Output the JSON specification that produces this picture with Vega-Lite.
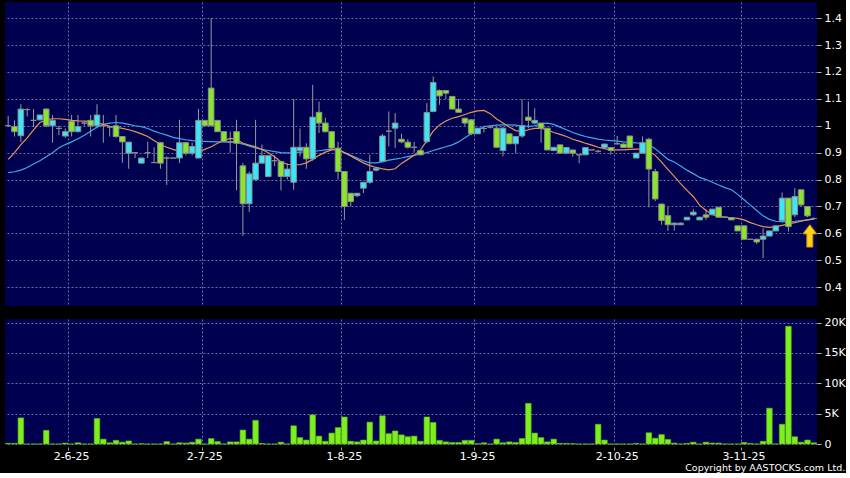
{
"$schema": "https://vega.github.io/schema/vega-lite/v6.json",
"background": "#000000",
"padding": {"left": 4, "top": 2, "right": 0, "bottom": 0},
"config": {
  "view": {"fill": "#000050", "stroke": null},
  "font": "DejaVu Sans",
  "axis": {"gridColor": "#6E6EA0", "gridDash": [2, 2], "gridWidth": 1, "gridOpacity": 1, "labelColor": "#FFFFFF", "labelFont": "DejaVu Sans", "domain": false, "tickColor": "#BBBBBB", "title": null, "labelOverlap": false},
  "concat": {"spacing": 10}
},
"title": {"text": "Copyright by AASTOCKS.com Ltd.", "orient": "bottom", "anchor": "end", "color": "#FFFFFF", "fontSize": 9.5, "fontWeight": "normal", "font": "DejaVu Sans", "offset": 2},
"datasets": {"k": [
{"d":"2025-05-19","o":1.0,"h":1.037,"l":0.996,"c":1.0,"v":0.1,"m1":0.875,"m2":0.826},
{"d":"2025-05-20","o":0.997,"h":1.02,"l":0.96,"c":0.978,"v":0.1,"m1":0.9,"m2":0.829},
{"d":"2025-05-21","o":0.963,"h":1.08,"l":0.94,"c":1.062,"v":4.3,"m1":0.93,"m2":0.835},
{"d":"2025-05-22","o":1.06,"h":1.065,"l":1.035,"c":1.06,"v":0,"m1":0.955,"m2":0.845},
{"d":"2025-05-23","o":1.02,"h":1.062,"l":0.996,"c":1.02,"v":0,"m1":0.985,"m2":0.858},
{"d":"2025-05-26","o":1.022,"h":1.04,"l":1.02,"c":1.04,"v":0,"m1":1.012,"m2":0.87},
{"d":"2025-05-27","o":1.062,"h":1.065,"l":0.995,"c":1.0,"v":2.25,"m1":1.022,"m2":0.885},
{"d":"2025-05-28","o":1.0,"h":1.04,"l":0.937,"c":1.02,"v":0,"m1":1.026,"m2":0.9},
{"d":"2025-05-29","o":0.99,"h":1.0,"l":0.965,"c":0.99,"v":0,"m1":1.026,"m2":0.918},
{"d":"2025-05-30","o":0.962,"h":0.99,"l":0.955,"c":0.978,"v":0.15,"m1":1.024,"m2":0.93},
{"d":"2025-06-02","o":1.016,"h":1.04,"l":0.96,"c":0.978,"v":0,"m1":1.02,"m2":0.94},
{"d":"2025-06-03","o":0.978,"h":1.04,"l":0.975,"c":0.997,"v":0.2,"m1":1.018,"m2":0.952},
{"d":"2025-06-04","o":1.01,"h":1.015,"l":1.0,"c":1.01,"v":0,"m1":1.017,"m2":0.965},
{"d":"2025-06-05","o":1.02,"h":1.04,"l":0.96,"c":1.0,"v":0,"m1":1.016,"m2":0.98},
{"d":"2025-06-06","o":1.0,"h":1.08,"l":0.99,"c":1.04,"v":4.2,"m1":1.012,"m2":0.995},
{"d":"2025-06-09","o":1.0,"h":1.04,"l":0.937,"c":1.0,"v":0.8,"m1":1.005,"m2":1.005},
{"d":"2025-06-10","o":0.995,"h":1.0,"l":0.96,"c":0.995,"v":0.2,"m1":0.998,"m2":1.01},
{"d":"2025-06-11","o":1.0,"h":1.04,"l":0.955,"c":0.96,"v":0.6,"m1":0.995,"m2":1.012},
{"d":"2025-06-12","o":0.96,"h":0.96,"l":0.862,"c":0.94,"v":0.3,"m1":0.99,"m2":1.01},
{"d":"2025-06-13","o":0.898,"h":0.94,"l":0.84,"c":0.939,"v":0.5,"m1":0.985,"m2":1.005},
{"d":"2025-06-16","o":0.9,"h":0.9,"l":0.88,"c":0.9,"v":0,"m1":0.978,"m2":1.0},
{"d":"2025-06-17","o":0.861,"h":0.88,"l":0.86,"c":0.88,"v":0.05,"m1":0.97,"m2":0.997},
{"d":"2025-06-18","o":0.9,"h":0.941,"l":0.88,"c":0.9,"v":0,"m1":0.96,"m2":0.99},
{"d":"2025-06-19","o":0.863,"h":0.92,"l":0.862,"c":0.863,"v":0,"m1":0.945,"m2":0.98},
{"d":"2025-06-20","o":0.937,"h":0.94,"l":0.84,"c":0.861,"v":0,"m1":0.93,"m2":0.972},
{"d":"2025-06-23","o":0.88,"h":0.886,"l":0.78,"c":0.88,"v":0.4,"m1":0.92,"m2":0.965},
{"d":"2025-06-24","o":0.88,"h":0.88,"l":0.88,"c":0.88,"v":0,"m1":0.912,"m2":0.957},
{"d":"2025-06-25","o":0.88,"h":1.022,"l":0.861,"c":0.937,"v":0.2,"m1":0.905,"m2":0.952},
{"d":"2025-06-26","o":0.937,"h":0.94,"l":0.89,"c":0.898,"v":0.15,"m1":0.902,"m2":0.948},
{"d":"2025-06-27","o":0.898,"h":0.937,"l":0.89,"c":0.923,"v":0.3,"m1":0.9,"m2":0.945},
{"d":"2025-06-30","o":0.88,"h":1.063,"l":0.88,"c":1.02,"v":0.8,"m1":0.905,"m2":0.943},
{"d":"2025-07-02","o":1.02,"h":1.02,"l":1.0,"c":1.0,"v":0,"m1":0.912,"m2":0.942},
{"d":"2025-07-03","o":1.14,"h":1.4,"l":1.0,"c":1.0,"v":0.9,"m1":0.922,"m2":0.941},
{"d":"2025-07-04","o":1.02,"h":1.02,"l":0.978,"c":0.978,"v":0.4,"m1":0.935,"m2":0.94},
{"d":"2025-07-07","o":0.978,"h":0.978,"l":0.941,"c":0.941,"v":0,"m1":0.945,"m2":0.94},
{"d":"2025-07-08","o":0.94,"h":0.978,"l":0.9,"c":0.94,"v":0.35,"m1":0.953,"m2":0.939},
{"d":"2025-07-09","o":0.978,"h":1.022,"l":0.76,"c":0.935,"v":0.35,"m1":0.95,"m2":0.938},
{"d":"2025-07-10","o":0.851,"h":0.862,"l":0.59,"c":0.71,"v":2.3,"m1":0.935,"m2":0.932},
{"d":"2025-07-11","o":0.71,"h":0.83,"l":0.68,"c":0.821,"v":0.8,"m1":0.928,"m2":0.924},
{"d":"2025-07-14","o":0.8,"h":1.022,"l":0.795,"c":0.861,"v":3.9,"m1":0.922,"m2":0.918},
{"d":"2025-07-15","o":0.861,"h":0.93,"l":0.86,"c":0.889,"v":0.1,"m1":0.912,"m2":0.912},
{"d":"2025-07-16","o":0.811,"h":0.889,"l":0.81,"c":0.889,"v":0,"m1":0.9,"m2":0.908},
{"d":"2025-07-17","o":0.87,"h":0.89,"l":0.85,"c":0.87,"v":0,"m1":0.885,"m2":0.904},
{"d":"2025-07-18","o":0.867,"h":0.87,"l":0.76,"c":0.811,"v":0.3,"m1":0.865,"m2":0.9},
{"d":"2025-07-21","o":0.811,"h":0.86,"l":0.8,"c":0.839,"v":0,"m1":0.857,"m2":0.899},
{"d":"2025-07-22","o":0.79,"h":1.1,"l":0.762,"c":0.92,"v":3.0,"m1":0.855,"m2":0.9},
{"d":"2025-07-23","o":0.908,"h":0.99,"l":0.886,"c":0.92,"v":1.05,"m1":0.855,"m2":0.902},
{"d":"2025-07-24","o":0.92,"h":0.935,"l":0.84,"c":0.877,"v":0.65,"m1":0.862,"m2":0.903},
{"d":"2025-07-25","o":0.877,"h":1.152,"l":0.87,"c":1.032,"v":4.8,"m1":0.875,"m2":0.904},
{"d":"2025-07-28","o":1.05,"h":1.09,"l":0.973,"c":1.01,"v":1.3,"m1":0.89,"m2":0.907},
{"d":"2025-07-29","o":1.01,"h":1.03,"l":0.975,"c":0.978,"v":0.45,"m1":0.902,"m2":0.91},
{"d":"2025-07-30","o":0.978,"h":0.98,"l":0.91,"c":0.917,"v":1.8,"m1":0.91,"m2":0.913},
{"d":"2025-07-31","o":0.917,"h":0.94,"l":0.8,"c":0.83,"v":2.7,"m1":0.912,"m2":0.91},
{"d":"2025-08-01","o":0.83,"h":0.83,"l":0.65,"c":0.7,"v":4.45,"m1":0.9,"m2":0.9},
{"d":"2025-08-04","o":0.749,"h":0.75,"l":0.7,"c":0.718,"v":0.45,"m1":0.888,"m2":0.89},
{"d":"2025-08-05","o":0.74,"h":0.75,"l":0.735,"c":0.749,"v":0.35,"m1":0.875,"m2":0.88},
{"d":"2025-08-06","o":0.768,"h":0.79,"l":0.75,"c":0.79,"v":0.65,"m1":0.862,"m2":0.87},
{"d":"2025-08-07","o":0.79,"h":0.892,"l":0.785,"c":0.83,"v":3.6,"m1":0.852,"m2":0.862},
{"d":"2025-08-08","o":0.835,"h":0.845,"l":0.83,"c":0.842,"v":0.5,"m1":0.845,"m2":0.862},
{"d":"2025-08-11","o":0.867,"h":0.97,"l":0.865,"c":0.962,"v":4.65,"m1":0.84,"m2":0.866},
{"d":"2025-08-12","o":0.98,"h":1.053,"l":0.923,"c":0.98,"v":1.7,"m1":0.836,"m2":0.872},
{"d":"2025-08-13","o":0.991,"h":1.047,"l":0.917,"c":1.01,"v":2.15,"m1":0.84,"m2":0.876},
{"d":"2025-08-14","o":0.95,"h":0.97,"l":0.935,"c":0.94,"v":1.5,"m1":0.86,"m2":0.88},
{"d":"2025-08-15","o":0.939,"h":0.95,"l":0.915,"c":0.92,"v":1.2,"m1":0.875,"m2":0.885},
{"d":"2025-08-18","o":0.92,"h":0.94,"l":0.9,"c":0.92,"v":1.3,"m1":0.89,"m2":0.89},
{"d":"2025-08-19","o":0.908,"h":0.91,"l":0.89,"c":0.892,"v":0.45,"m1":0.91,"m2":0.895},
{"d":"2025-08-20","o":0.941,"h":1.084,"l":0.935,"c":1.049,"v":4.45,"m1":0.945,"m2":0.9},
{"d":"2025-08-21","o":1.053,"h":1.183,"l":1.05,"c":1.161,"v":3.55,"m1":0.98,"m2":0.908},
{"d":"2025-08-22","o":1.131,"h":1.135,"l":1.078,"c":1.111,"v":0.6,"m1":1.003,"m2":0.915},
{"d":"2025-08-25","o":1.131,"h":1.131,"l":1.099,"c":1.121,"v":0.35,"m1":1.018,"m2":0.922},
{"d":"2025-08-26","o":1.109,"h":1.11,"l":1.062,"c":1.062,"v":0.25,"m1":1.028,"m2":0.929},
{"d":"2025-08-27","o":1.062,"h":1.1,"l":1.05,"c":1.05,"v":0.25,"m1":1.034,"m2":0.94},
{"d":"2025-08-28","o":1.028,"h":1.03,"l":1.0,"c":1.01,"v":0.6,"m1":1.042,"m2":0.955},
{"d":"2025-08-29","o":1.022,"h":1.025,"l":0.965,"c":0.97,"v":0.6,"m1":1.05,"m2":0.97},
{"d":"2025-09-01","o":0.97,"h":0.991,"l":0.97,"c":0.991,"v":0.05,"m1":1.055,"m2":0.985},
{"d":"2025-09-02","o":0.99,"h":1.0,"l":0.975,"c":0.99,"v":0.2,"m1":1.057,"m2":0.997},
{"d":"2025-09-03","o":0.995,"h":1.0,"l":0.99,"c":0.995,"v":0,"m1":1.045,"m2":1.0},
{"d":"2025-09-04","o":0.991,"h":0.995,"l":0.918,"c":0.92,"v":0.8,"m1":1.025,"m2":1.002},
{"d":"2025-09-05","o":0.908,"h":0.995,"l":0.886,"c":0.991,"v":0.2,"m1":1.01,"m2":1.003},
{"d":"2025-09-08","o":0.97,"h":0.97,"l":0.933,"c":0.933,"v":0.35,"m1":0.995,"m2":1.003},
{"d":"2025-09-09","o":0.933,"h":0.96,"l":0.898,"c":0.96,"v":0.25,"m1":0.982,"m2":1.002},
{"d":"2025-09-10","o":0.962,"h":1.099,"l":0.955,"c":1.0,"v":0.9,"m1":0.978,"m2":1.0},
{"d":"2025-09-11","o":1.032,"h":1.09,"l":0.99,"c":1.02,"v":6.7,"m1":0.985,"m2":0.998},
{"d":"2025-09-12","o":1.01,"h":1.065,"l":1.005,"c":1.02,"v":1.8,"m1":0.99,"m2":1.0},
{"d":"2025-09-15","o":1.01,"h":1.01,"l":0.937,"c":0.991,"v":1.05,"m1":0.99,"m2":1.008},
{"d":"2025-09-16","o":0.991,"h":0.991,"l":0.91,"c":0.91,"v":0.35,"m1":0.985,"m2":1.01},
{"d":"2025-09-17","o":0.908,"h":0.92,"l":0.905,"c":0.92,"v":0.8,"m1":0.975,"m2":1.005},
{"d":"2025-09-18","o":0.929,"h":0.93,"l":0.898,"c":0.898,"v":0.1,"m1":0.968,"m2":0.995},
{"d":"2025-09-19","o":0.898,"h":0.919,"l":0.898,"c":0.919,"v":0.1,"m1":0.96,"m2":0.985},
{"d":"2025-09-22","o":0.91,"h":0.91,"l":0.885,"c":0.898,"v":0.05,"m1":0.95,"m2":0.975},
{"d":"2025-09-23","o":0.892,"h":0.892,"l":0.861,"c":0.892,"v":0,"m1":0.943,"m2":0.967},
{"d":"2025-09-24","o":0.892,"h":0.919,"l":0.892,"c":0.919,"v":0,"m1":0.935,"m2":0.96},
{"d":"2025-09-25","o":0.91,"h":0.91,"l":0.91,"c":0.91,"v":0,"m1":0.928,"m2":0.955},
{"d":"2025-09-26","o":0.905,"h":0.91,"l":0.9,"c":0.905,"v":3.25,"m1":0.92,"m2":0.95},
{"d":"2025-09-29","o":0.919,"h":0.932,"l":0.919,"c":0.932,"v":0.65,"m1":0.915,"m2":0.947},
{"d":"2025-09-30","o":0.919,"h":0.92,"l":0.892,"c":0.908,"v":0,"m1":0.91,"m2":0.945},
{"d":"2025-10-02","o":0.933,"h":0.962,"l":0.93,"c":0.933,"v":0,"m1":0.91,"m2":0.943},
{"d":"2025-10-03","o":0.932,"h":0.935,"l":0.919,"c":0.919,"v":0,"m1":0.91,"m2":0.94},
{"d":"2025-10-06","o":0.962,"h":0.962,"l":0.919,"c":0.919,"v":0,"m1":0.912,"m2":0.938},
{"d":"2025-10-08","o":0.88,"h":0.898,"l":0.88,"c":0.898,"v":0.1,"m1":0.913,"m2":0.936},
{"d":"2025-10-09","o":0.898,"h":0.96,"l":0.898,"c":0.937,"v":0,"m1":0.913,"m2":0.935},
{"d":"2025-10-10","o":0.95,"h":0.955,"l":0.697,"c":0.839,"v":1.85,"m1":0.905,"m2":0.93},
{"d":"2025-10-13","o":0.83,"h":0.84,"l":0.72,"c":0.728,"v":0.95,"m1":0.89,"m2":0.915},
{"d":"2025-10-14","o":0.709,"h":0.71,"l":0.632,"c":0.648,"v":1.55,"m1":0.865,"m2":0.895},
{"d":"2025-10-15","o":0.666,"h":0.698,"l":0.609,"c":0.632,"v":0.75,"m1":0.838,"m2":0.875},
{"d":"2025-10-16","o":0.632,"h":0.64,"l":0.61,"c":0.638,"v":0.15,"m1":0.812,"m2":0.865},
{"d":"2025-10-17","o":0.632,"h":0.64,"l":0.632,"c":0.638,"v":0,"m1":0.785,"m2":0.85},
{"d":"2025-10-20","o":0.65,"h":0.66,"l":0.65,"c":0.66,"v":0.1,"m1":0.76,"m2":0.835},
{"d":"2025-10-21","o":0.669,"h":0.69,"l":0.665,"c":0.679,"v":0.3,"m1":0.737,"m2":0.822},
{"d":"2025-10-22","o":0.65,"h":0.662,"l":0.65,"c":0.66,"v":0,"m1":0.705,"m2":0.808},
{"d":"2025-10-23","o":0.669,"h":0.69,"l":0.65,"c":0.66,"v":0.3,"m1":0.685,"m2":0.8},
{"d":"2025-10-24","o":0.669,"h":0.69,"l":0.669,"c":0.69,"v":0.15,"m1":0.67,"m2":0.79},
{"d":"2025-10-27","o":0.697,"h":0.697,"l":0.66,"c":0.66,"v":0.15,"m1":0.662,"m2":0.78},
{"d":"2025-10-28","o":0.66,"h":0.66,"l":0.66,"c":0.66,"v":0,"m1":0.66,"m2":0.77},
{"d":"2025-10-30","o":0.659,"h":0.659,"l":0.65,"c":0.65,"v":0,"m1":0.658,"m2":0.762},
{"d":"2025-10-31","o":0.628,"h":0.628,"l":0.609,"c":0.609,"v":0,"m1":0.656,"m2":0.745},
{"d":"2025-11-03","o":0.628,"h":0.628,"l":0.578,"c":0.578,"v":0.25,"m1":0.65,"m2":0.725},
{"d":"2025-11-04","o":0.578,"h":0.578,"l":0.578,"c":0.578,"v":0.1,"m1":0.64,"m2":0.705},
{"d":"2025-11-05","o":0.578,"h":0.58,"l":0.56,"c":0.568,"v":0,"m1":0.632,"m2":0.685},
{"d":"2025-11-06","o":0.578,"h":0.619,"l":0.508,"c":0.59,"v":0.45,"m1":0.625,"m2":0.665},
{"d":"2025-11-07","o":0.59,"h":0.609,"l":0.59,"c":0.609,"v":5.9,"m1":0.622,"m2":0.652},
{"d":"2025-11-10","o":0.609,"h":0.628,"l":0.609,"c":0.628,"v":0,"m1":0.625,"m2":0.645},
{"d":"2025-11-11","o":0.648,"h":0.752,"l":0.64,"c":0.731,"v":3.25,"m1":0.63,"m2":0.644},
{"d":"2025-11-12","o":0.731,"h":0.731,"l":0.607,"c":0.625,"v":19.4,"m1":0.635,"m2":0.644},
{"d":"2025-11-13","o":0.669,"h":0.768,"l":0.66,"c":0.737,"v":1.2,"m1":0.64,"m2":0.645},
{"d":"2025-11-14","o":0.762,"h":0.762,"l":0.7,"c":0.706,"v":0.3,"m1":0.645,"m2":0.647},
{"d":"2025-11-17","o":0.7,"h":0.7,"l":0.66,"c":0.665,"v":0.65,"m1":0.65,"m2":0.65},
{"d":"2025-11-18","o":0.655,"h":0.66,"l":0.65,"c":0.655,"v":0.2,"m1":0.655,"m2":0.653}
]},
"vconcat": [
  {
    "width": 812, "height": 304,
    "data": {"name": "k"},
    "encoding": {
      "x": {"field": "d", "type": "ordinal",
        "scale": {"paddingInner": 0.12, "paddingOuter": 0.06},
        "axis": {"values": ["2025-06-02","2025-07-02","2025-08-01","2025-09-01","2025-10-02","2025-11-03"], "bandPosition": 0, "labels": false, "ticks": false, "domain": false, "grid": true}}
    },
    "layer": [
      {"mark": {"type": "rule", "color": "#9A9A9A", "strokeWidth": 1},
       "encoding": {
         "y": {"field": "l", "type": "quantitative", "scale": {"domain": [0.33, 1.46], "nice": false, "zero": false},
               "axis": {"orient": "right", "values": [0.4,0.5,0.6,0.7,0.8,0.9,1.0,1.1,1.2,1.3,1.4], "format": "~g", "grid": true, "tickSize": 4, "labelPadding": 3, "labelFontSize": 11, "labelOverlap": false}},
         "y2": {"field": "h"}}},
      {"mark": {"type": "line", "color": "#3DAAE8", "strokeWidth": 1.2},
       "encoding": {"y": {"field": "m2", "type": "quantitative",
               "axis": {"orient": "right", "values": [0.4,0.5,0.6,0.7,0.8,0.9,1.0,1.1,1.2,1.3,1.4], "format": "~g", "grid": true, "tickSize": 4, "labelPadding": 3, "labelFontSize": 11, "labelOverlap": false}}}},
      {"mark": {"type": "line", "color": "#E8925A", "strokeWidth": 1.2},
       "encoding": {"y": {"field": "m1", "type": "quantitative",
               "axis": {"orient": "right", "values": [0.4,0.5,0.6,0.7,0.8,0.9,1.0,1.1,1.2,1.3,1.4], "format": "~g", "grid": true, "tickSize": 4, "labelPadding": 3, "labelFontSize": 11, "labelOverlap": false}}}},
      {"mark": {"type": "bar", "stroke": "#8C8C8C", "strokeWidth": 1},
       "encoding": {
         "y": {"field": "o", "type": "quantitative",
               "axis": {"orient": "right", "values": [0.4,0.5,0.6,0.7,0.8,0.9,1.0,1.1,1.2,1.3,1.4], "format": "~g", "grid": true, "tickSize": 4, "labelPadding": 3, "labelFontSize": 11, "labelOverlap": false}},
         "y2": {"field": "c"},
         "color": {"condition": {"test": "datum.c > datum.o", "value": "#3BE6F6"}, "value": "#8AE62A"}}},
      {"transform": [{"filter": "datum.d == '2025-11-18'"}],
       "mark": {"type": "point", "filled": true, "shape": "M0,-1L0.62,-0.18L0.27,-0.18L0.27,1L-0.27,1L-0.27,-0.18L-0.62,-0.18Z", "size": 500, "fill": "#FFD21A", "stroke": "#C98A00", "strokeWidth": 1, "opacity": 1, "xOffset": -4, "yOffset": 16},
       "encoding": {"y": {"field": "l", "type": "quantitative",
               "axis": {"orient": "right", "values": [0.4,0.5,0.6,0.7,0.8,0.9,1.0,1.1,1.2,1.3,1.4], "format": "~g", "grid": true, "tickSize": 4, "labelPadding": 3, "labelFontSize": 11, "labelOverlap": false}}}}
    ]
  },
  {
    "width": 812, "height": 125,
    "data": {"name": "k"},
    "mark": {"type": "bar", "color": "#7CF01C", "stroke": "#5FB818", "strokeWidth": 0.6},
    "encoding": {
      "x": {"field": "d", "type": "ordinal",
        "scale": {"paddingInner": 0.12, "paddingOuter": 0.06},
        "axis": {"values": ["2025-06-02","2025-07-02","2025-08-01","2025-09-01","2025-10-02","2025-11-03"], "bandPosition": 0, "labelExpr": "utcFormat(toDate(datum.value), '%-d-%-m-%y')", "labelAngle": 0, "labelFontSize": 11, "grid": true, "tickSize": 3, "offset": 3, "labelPadding": 0, "tickColor": "#999999"}},
      "y": {"field": "v", "type": "quantitative", "scale": {"domain": [0, 20.6], "nice": false},
        "axis": {"orient": "right", "values": [0, 5, 10, 15, 20], "labelExpr": "datum.value == 0 ? '0' : datum.value + 'K'", "grid": true, "tickSize": 4, "labelPadding": 3, "labelFontSize": 11}}
    }
  }
]
}
